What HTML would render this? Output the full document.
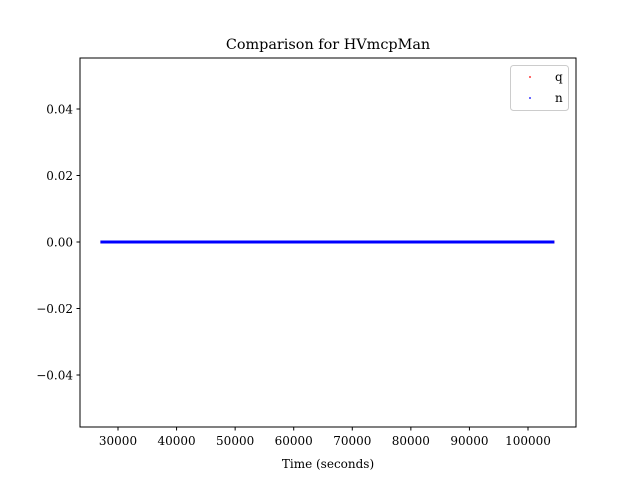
<!DOCTYPE html>
<html><head><meta charset="utf-8">
<style>
body{margin:0;background:#fff;}
svg text{font-family:"DejaVu Serif","Liberation Serif",serif;fill:#000;}
</style></head>
<body>
<svg width="640" height="480" viewBox="0 0 640 480">
<rect width="640" height="480" fill="#fff"/>
<text x="328" y="49" font-size="14.4" text-anchor="middle">Comparison for HVmcpMan</text>
<g id="xticks"></g>
<g id="yticks"></g>
<g id="series"></g>
<rect x="80" y="58" width="496" height="369" fill="none" stroke="#000" stroke-width="1"/>
<text x="328" y="468" font-size="12" text-anchor="middle">Time (seconds)</text>
<g>
<rect x="510.5" y="65.5" width="58" height="45" rx="3" fill="#fff" stroke="#ccc"/>
<g><circle cx="530" cy="77" r="0.9" fill="red"/><text x="555" y="81" font-size="12">q</text></g>
<g><circle cx="530" cy="98" r="0.9" fill="blue"/><text x="555" y="102" font-size="12">n</text></g>
</g>
</svg>
<script>
const times = [27000, 35000, 45000, 55000, 65000, 75000, 85000, 95000, 104500];
const qValues = [0, 0, 0, 0, 0, 0, 0, 0, 0];
const nValues = [0, 0, 0, 0, 0, 0, 0, 0, 0];
const xTicks = [30000, 40000, 50000, 60000, 70000, 80000, 90000, 100000];
const yTicks = [-0.04, -0.02, 0.0, 0.02, 0.04];
const yTickLabels = ["\u22120.04", "\u22120.02", "0.00", "0.02", "0.04"];
const NS = "http://www.w3.org/2000/svg";
const xs = v => 118 + (v - 30000) * 410 / 70000;
const ys = v => 242 - v * 133 / 0.04;
const xg = document.getElementById('xticks');
xTicks.forEach(t => {
  const l = document.createElementNS(NS, 'line');
  
  
  l.setAttribute('x1', xs(t)); l.setAttribute('x2', xs(t));
  l.setAttribute('y1', 427); l.setAttribute('y2', 430.5);
  l.setAttribute('stroke', '#000');
  xg.appendChild(l);
  const tx = document.createElementNS(NS, 'text');
  
  
  tx.setAttribute('x', xs(t)); tx.setAttribute('y', 445);
  tx.setAttribute('font-size', '12'); tx.setAttribute('text-anchor', 'middle');
  tx.textContent = String(t);
  xg.appendChild(tx);
});
const yg = document.getElementById('yticks');
yTicks.forEach((t, i) => {
  const l = document.createElementNS(NS, 'line');
  
  
  l.setAttribute('x1', 76.5); l.setAttribute('x2', 80);
  l.setAttribute('y1', ys(t)); l.setAttribute('y2', ys(t));
  l.setAttribute('stroke', '#000');
  yg.appendChild(l);
  const tx = document.createElementNS(NS, 'text');
  
  
  tx.setAttribute('x', 73); tx.setAttribute('y', ys(t) + 4.5);
  tx.setAttribute('font-size', '12'); tx.setAttribute('text-anchor', 'end');
  tx.textContent = yTickLabels[i];
  yg.appendChild(tx);
});
const sg = document.getElementById('series');
[[qValues, 'red', 'series-q'], [nValues, 'blue', 'series-n']].forEach(([vals, col, name]) => {
  const p = document.createElementNS(NS, 'polyline');
  
  
  p.setAttribute('points', times.map((t, i) => xs(t) + ',' + ys(vals[i])).join(' '));
  p.setAttribute('fill', 'none'); p.setAttribute('stroke', col); p.setAttribute('stroke-width', '3');
  sg.appendChild(p);
});
</script>
</body></html>
